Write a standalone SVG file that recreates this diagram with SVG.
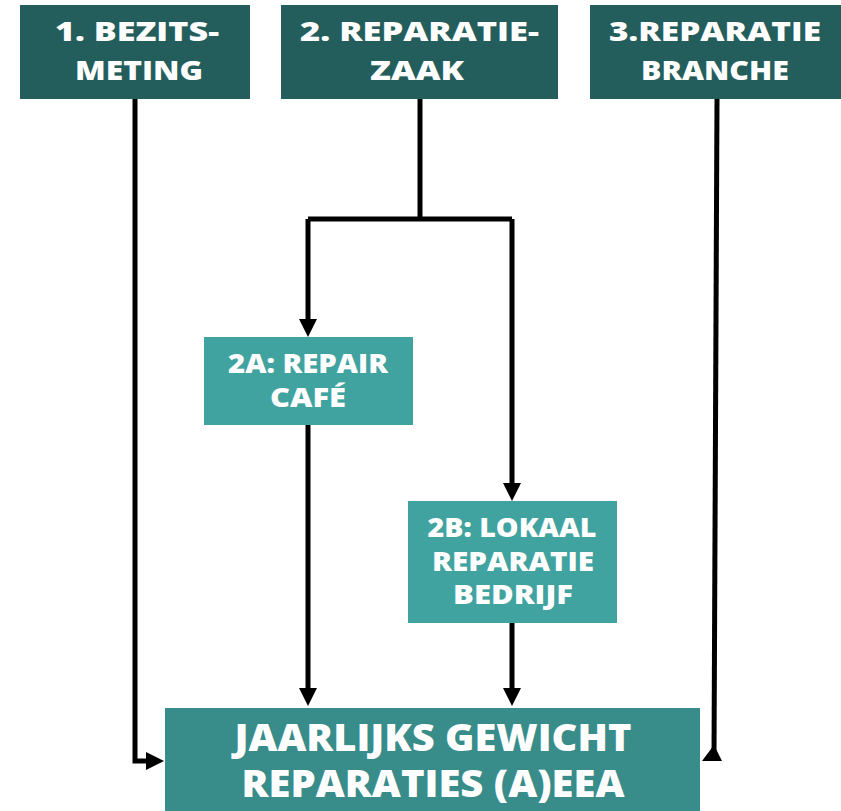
<svg xmlns="http://www.w3.org/2000/svg" width="841" height="811" viewBox="0 0 841 811">
<style>
.dark{fill:#235e5c}
.mid{fill:#41a39f}
.bot{fill:#388c8a}
text{font-family:"Open Sans","Liberation Sans",sans-serif;font-weight:800;fill:#fff;text-anchor:middle}
.t27{font-size:27px}
.t26{font-size:26px}
.t37{font-size:37px}
.c{fill:none;stroke:#000;stroke-width:5;stroke-linejoin:miter}
</style>
<defs>
<marker id="ah" viewBox="0 0 18 18" refX="0" refY="9" markerWidth="18" markerHeight="18" markerUnits="userSpaceOnUse" orient="auto">
<path d="M0,0 L18,9 L0,18 Z" fill="#000"/>
</marker>
</defs>
<rect width="841" height="811" fill="#fff"/>
<g id="connectors">
<polyline class="c" points="135,99 135,761 146,761" marker-end="url(#ah)"/>
<polyline class="c" points="420,99 420,219"/>
<polyline class="c" points="308,219 512,219"/>
<polyline class="c" points="308,219 308,319" marker-end="url(#ah)"/>
<polyline class="c" points="512,219 512,483" marker-end="url(#ah)"/>
<polyline class="c" points="308,425 308,688" marker-end="url(#ah)"/>
<polyline class="c" points="512,623 512,688" marker-end="url(#ah)"/>
<polyline class="c" points="717,99 714,754"/>
<polygon points="714,745 702,761 722,761" fill="#000"/>
</g>
<g id="n1">
<rect class="dark" x="20" y="5" width="230" height="94"/>
<text class="t27" x="137" y="41" textLength="164" lengthAdjust="spacingAndGlyphs">1. BEZITS-</text>
<text class="t27" x="139" y="80" textLength="128" lengthAdjust="spacingAndGlyphs">METING</text>
</g>
<g id="n2">
<rect class="dark" x="281" y="5" width="277" height="94"/>
<text class="t27" x="419.5" y="41" textLength="239" lengthAdjust="spacingAndGlyphs">2. REPARATIE-</text>
<text class="t27" x="417" y="80" textLength="94" lengthAdjust="spacingAndGlyphs">ZAAK</text>
</g>
<g id="n3">
<rect class="dark" x="590" y="5" width="251" height="94"/>
<text class="t27" x="715" y="41" textLength="212" lengthAdjust="spacingAndGlyphs">3.REPARATIE</text>
<text class="t27" x="715" y="80" textLength="148" lengthAdjust="spacingAndGlyphs">BRANCHE</text>
</g>
<g id="n2a">
<rect class="mid" x="204" y="337" width="209" height="88"/>
<text class="t27" x="308" y="373" textLength="160" lengthAdjust="spacingAndGlyphs">2A: REPAIR</text>
<text class="t27" x="308" y="407" textLength="76" lengthAdjust="spacingAndGlyphs">CAFÉ</text>
</g>
<g id="n2b">
<rect class="mid" x="408" y="501" width="209" height="122"/>
<text class="t26" x="512" y="537" textLength="169" lengthAdjust="spacingAndGlyphs">2B: LOKAAL</text>
<text class="t26" x="513" y="571" textLength="162" lengthAdjust="spacingAndGlyphs">REPARATIE</text>
<text class="t26" x="513" y="604" textLength="120" lengthAdjust="spacingAndGlyphs">BEDRIJF</text>
</g>
<g id="n4">
<rect class="bot" x="165" y="708" width="535" height="103"/>
<text class="t37" x="433" y="751" textLength="397" lengthAdjust="spacingAndGlyphs">JAARLIJKS GEWICHT</text>
<text class="t37" x="433" y="797" textLength="383" lengthAdjust="spacingAndGlyphs">REPARATIES (A)EEA</text>
</g>
</svg>
